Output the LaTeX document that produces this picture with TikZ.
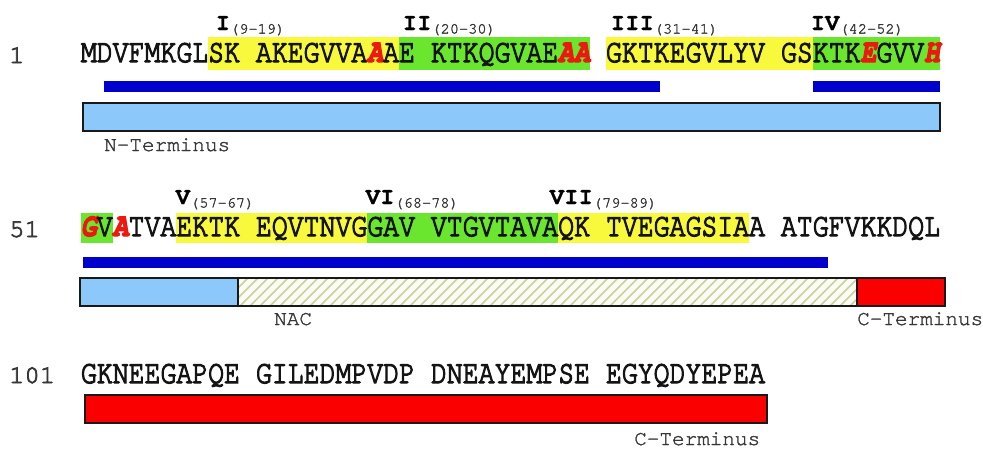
\documentclass[tikz,border=0pt]{standalone}
\usepackage{fontspec}
% sequence letters: monospaced serif, one cell per residue
\newfontfamily\seqfont[FakeStretch=0.8035,FakeBold=3.5]{TeX Gyre Cursor}
\newfontfamily\numfont[FakeBold=3]{TeX Gyre Cursor}
\newfontfamily\labfont[FakeBold=1]{TeX Gyre Cursor}
\newfontfamily\subfont[FakeBold=2]{TeX Gyre Cursor}
\newfontfamily\tagfont[FakeBold=1.5]{TeX Gyre Cursor}

\definecolor{hlyellow}{RGB}{248,248,60}
\definecolor{hlgreen}{RGB}{105,230,45}
\definecolor{barblue}{RGB}{0,0,205}
\definecolor{ntblue}{RGB}{140,200,250}
\definecolor{ctred}{RGB}{250,0,0}
\definecolor{mutred}{RGB}{235,25,15}
\definecolor{hatchline}{RGB}{200,210,160}
\definecolor{hatchfill}{RGB}{252,252,244}
\definecolor{boxline}{RGB}{25,25,25}
\definecolor{numgray}{RGB}{55,55,55}
\definecolor{seqink}{RGB}{20,20,20}

\newcommand\mut[1]{\textcolor{mutred}{\bfseries\itshape #1}}
\newcommand\seqA{\fontsize{33pt}{33pt}\seqfont}
\newcommand\motif[2]{{\fontsize{24pt}{24pt}\labfont\bfseries #1}\raisebox{-3.5pt}{\fontsize{15.3pt}{15.3pt}\subfont\textcolor{numgray}{#2}}}

\tikzset{
  seq/.style={anchor=base west, inner sep=0pt, text=seqink, text height=19pt, text depth=1pt},
  rownum/.style={anchor=base west, inner sep=0pt, text=numgray, text height=15pt, text depth=0pt, font=\fontsize{25.5pt}{25.5pt}\numfont},
  motiflab/.style={anchor=base west, inner sep=0pt, text height=14pt, text depth=1pt},
  tag/.style={anchor=base west, inner sep=0pt, text=numgray, text height=12pt, text depth=0pt, font=\fontsize{21pt}{21pt}\tagfont},
  bar/.style={fill=barblue, draw=none},
  domainbox/.style={draw=boxline, line width=2pt},
  hatch/.style={draw=hatchline, line width=1.6pt}
}

\begin{document}
\begin{tikzpicture}[x=1pt, y=-1pt]
\useasboundingbox (0,0) rectangle (983,448);
\def\xo{80.7}
\def\pp{15.91}

% ---------- row 1: residues 1-50 ----------
\fill[hlyellow] ({\xo+8*\pp},37) rectangle ({\xo+20*\pp},70);
\fill[hlgreen]  ({\xo+20*\pp},37) rectangle ({\xo+32*\pp},70);
\fill[hlyellow] ({\xo+33*\pp},37) rectangle ({\xo+46*\pp},70);
\fill[hlgreen]  ({\xo+46*\pp},37) rectangle ({\xo+54*\pp},70);

\node[rownum] (n1) at (9,63) {1};
\node[seq] (s1a) at ({\xo+0*\pp},62) {\seqA MDVFMKGLSK};
\node[seq] (s1b) at ({\xo+11*\pp},62) {\seqA AKEGVVA\mut{A}AE};
\node[seq] (s1c) at ({\xo+22*\pp},62) {\seqA KTKQGVAE\mut{AA}};
\node[seq] (s1d) at ({\xo+33*\pp},62) {\seqA GKTKEGVLYV};
\node[seq] (s1e) at ({\xo+44*\pp},62) {\seqA GSKTK\mut{E}GVV\mut{H}};

\node[motiflab] (m1) at (215.5,30) {\motif{I}{(9-19)}};
\node[motiflab] (m2) at (402.5,30) {\motif{II}{(20-30)}};
\node[motiflab] (m3) at (610.5,30) {\motif{III}{(31-41)}};
\node[motiflab] (m4) at (810.5,30) {\motif{IV}{(42-52)}};

\fill[bar] (104,81) rectangle (660,92);
\fill[bar] (813,81) rectangle (940,92);

\filldraw[domainbox, fill=ntblue] (83,103) rectangle (940,131);
\node[tag] (nterm) at (104,151) {N-Terminus};

% ---------- row 2: residues 51-100 ----------
\fill[hlgreen]  ({\xo+0*\pp},213) rectangle ({\xo+2*\pp},243);
\fill[hlyellow] ({\xo+6*\pp},213) rectangle ({\xo+18*\pp},243);
\fill[hlgreen]  ({\xo+18*\pp},213) rectangle ({\xo+30*\pp},243);
\fill[hlyellow] ({\xo+30*\pp},213) rectangle ({\xo+42*\pp},243);

\node[rownum] (n51) at (9,237) {51};
\node[seq] (s2a) at ({\xo+0*\pp},236) {\seqA \mut{G}V\mut{A}TVAEKTK};
\node[seq] (s2b) at ({\xo+11*\pp},236) {\seqA EQVTNVGGAV};
\node[seq] (s2c) at ({\xo+22*\pp},236) {\seqA VTGVTAVAQK};
\node[seq] (s2d) at ({\xo+33*\pp},236) {\seqA TVEGAGSIAA};
\node[seq] (s2e) at ({\xo+44*\pp},236) {\seqA ATGFVKKDQL};

\node[motiflab] (m5) at (175.5,204) {\motif{V}{(57-67)}};
\node[motiflab] (m6) at (365.5,204) {\motif{VI}{(68-78)}};
\node[motiflab] (m7) at (549.5,204) {\motif{VII}{(79-89)}};

\fill[bar] (83,257) rectangle (828,268);

\fill[ntblue] (80,278) rectangle (238,306);
\fill[hatchfill] (238,278) rectangle (857,306);
\begin{scope}
  \clip (238,278) rectangle (857,306);
  \foreach \h in {210,220,...,860} {
    \draw[hatch] (\h,306) -- ++(28,-28);
  }
\end{scope}
\fill[ctred] (857,278) rectangle (945,306);
\draw[domainbox] (80,278) rectangle (945,306);
\draw[domainbox] (238,278) -- (238,306);
\draw[domainbox] (857,278) -- (857,306);
\node[tag] (nac) at (274,325) {NAC};
\node[tag] (cterm2) at (857,325) {C-Terminus};

% ---------- row 3: residues 101-140 ----------
\node[rownum] (n101) at (9,383) {101};
\node[seq] (s3a) at ({\xo+0*\pp},383) {\seqA GKNEEGAPQE};
\node[seq] (s3b) at ({\xo+11*\pp},383) {\seqA GILEDMPVDP};
\node[seq] (s3c) at ({\xo+22*\pp},383) {\seqA DNEAYEMPSE};
\node[seq] (s3d) at ({\xo+33*\pp},383) {\seqA EGYQDYEPEA};

\filldraw[domainbox, fill=ctred] (85,395) rectangle (767,423);
\node[tag] (cterm3) at (634,445) {C-Terminus};
\end{tikzpicture}
\end{document}
